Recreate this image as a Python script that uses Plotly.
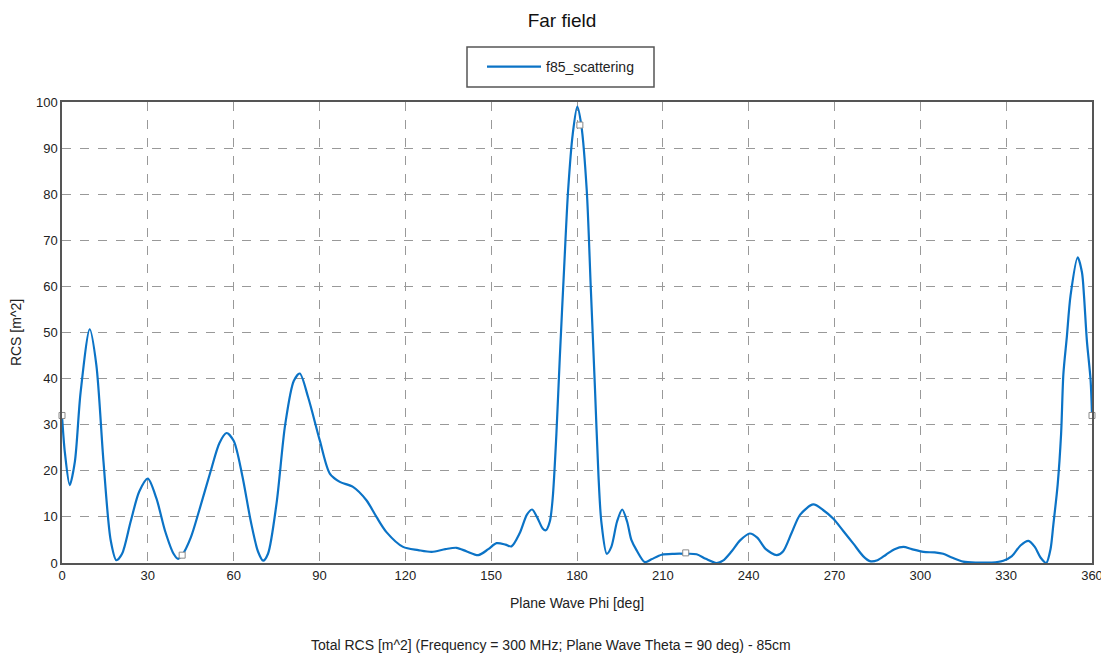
import plotly.graph_objects as go

# Curve samples (phi in deg, RCS in m^2)
phi = [0, 1, 2.7, 4.5, 6.5, 9.7, 12, 14.5, 17, 19, 21, 24, 27, 30, 33, 36, 39, 40.6, 42,
       45, 48, 52, 55, 57.5, 60, 63, 66, 68.5, 70.3, 72, 75, 78, 81, 83.1, 86, 90.1, 93.6,
       97.1, 101.7, 106.4, 109.9, 113.4, 119.2, 124.5, 129.2, 134, 137.9, 141.5, 145.5, 149,
       151.9, 155, 157.1, 160, 162.5, 164.3, 166, 168, 169.1, 170.5, 171.5, 172.8, 174,
       175.5, 176.9, 178.5, 180.1, 181.5, 183.4, 184.8, 186.3, 187.5, 188.5, 190.4, 192,
       194, 195.8, 197.5, 199, 200.8, 203.7, 206, 209.6, 214, 218.1, 221.8, 225, 228.8,
       231, 234, 237, 240.4, 243, 246, 249.8, 252, 255, 258, 262.6, 266, 269.6, 273,
       276.6, 280, 282.4, 285, 288, 291, 294.1, 297, 301.1, 305, 308, 311, 315, 320, 325,
       329, 332, 335, 337.8, 340, 342, 344, 345.5, 346.5, 348, 349.2, 350, 351.2, 352.5,
       355, 356.5, 357.2, 358.2, 359.5, 360]
rcs = [32, 24, 16.9, 22, 37, 50.7, 43, 22, 5, 0.6, 2, 9, 15.5, 18.3, 14, 7, 2, 0.9, 1.7,
       5.5, 11.5, 20, 26, 28.2, 26.5, 19, 9, 2.5, 0.5, 2, 13, 30, 39.5, 41.1, 36, 26.6, 19.4,
       17.6, 16.5, 13.6, 10, 6.7, 3.5, 2.8, 2.4, 3, 3.3, 2.5, 1.7, 3,
       4.3, 4, 3.6, 6.5, 10.5, 11.6, 10, 7.5, 7.1, 9, 14, 28, 44.7,
       64, 80.9, 93, 99.0, 95, 80.9, 60, 37.5, 19, 9, 2.0, 3.5,
       9, 11.6, 9, 5, 2.8, 0.2, 0.8, 1.8, 2, 2.0, 1.9, 0.9, 0,
       0.5, 2.5, 4.9, 6.4, 5.5, 3, 1.7, 2.5, 6.5, 10.5, 12.7, 11.5, 9.6, 7,
       4.2, 1.5, 0.4, 0.6, 1.8, 3, 3.5, 3, 2.4, 2.3, 2.0, 1.2, 0.3, 0.1, 0.1,
       0.5, 1.5, 3.8, 4.8, 3.5, 1.2, 0, 3, 8.4, 17, 28, 41, 49, 58,
       66.3, 63, 58, 48.3, 39.7, 32]

# Marker positions on the curve
marker_phi = [0, 42, 181, 218, 360]
marker_rcs = [32, 1.7, 95, 2.2, 32]

x_ticks = list(range(0, 361, 30))
y_ticks = list(range(0, 101, 10))

series_name = "f85_scattering"
title_text = "Far field"
x_title = "Plane Wave Phi [deg]"
y_title = "RCS [m^2]"
footer = "Total RCS [m^2] (Frequency = 300 MHz; Plane Wave Theta = 90 deg) - 85cm"

font_family = "Liberation Sans, Arial, sans-serif"
line_color = "#0B73C6"

W, H = 1101, 650          # page has an 8px body margin
L, R, T, B = 54, 17, 94, 95
PW, PH = W - L - R, H - T - B


def px_x(x):
    return (x - L) / PW


def px_y(y):
    return (H - B - y) / PH


fig = go.Figure()
fig.add_trace(go.Scatter(
    x=phi, y=rcs, mode="lines", name=series_name,
    line=dict(color=line_color, width=2.2, shape="spline", smoothing=0.8),
))
fig.add_trace(go.Scatter(
    x=marker_phi, y=marker_rcs, mode="markers", showlegend=False,
    marker=dict(symbol="square", size=6, color="white",
                line=dict(color="#8a8a8a", width=1)),
    cliponaxis=False,
))

fig.update_layout(
    width=W, height=H,
    margin=dict(l=L, r=R, t=T, b=B, autoexpand=False),
    paper_bgcolor="white", plot_bgcolor="white",
    font=dict(family=font_family, size=13, color="#222222"),
    title=dict(text=title_text, x=554 / W, xanchor="center", y=1 - 12 / H,
               yanchor="middle", font=dict(size=19, color="#111111")),
    showlegend=True,
    legend=dict(orientation="h", xref="container", yref="container",
                x=474 / W, xanchor="left", y=1 - 59 / H, yanchor="middle",
                itemwidth=54,
                bgcolor="rgba(0,0,0,0)", borderwidth=0,
                font=dict(size=14, color="#222222")),
    shapes=[dict(type="rect", xref="paper", yref="paper",
                 x0=px_x(459), x1=px_x(646), y0=px_y(79), y1=px_y(39),
                 line=dict(color="#555555", width=1.5), fillcolor="rgba(0,0,0,0)")],
    annotations=[dict(text=footer, xref="paper", yref="paper", x=px_x(543),
                      xanchor="center", y=px_y(637), yanchor="middle",
                      showarrow=False, font=dict(size=14, color="#222222"))],
)

fig.update_xaxes(
    range=[0, 360], tickvals=x_ticks, ticktext=[str(v) for v in x_ticks],
    showgrid=True, gridcolor="#999999", griddash="dash", gridwidth=1,
    showline=True, linecolor="#555555", linewidth=1.5, mirror=True,
    zeroline=False, ticks="", automargin=False,
    title=dict(text=x_title, standoff=16, font=dict(size=14)),
)
fig.update_yaxes(
    range=[0, 100], tickvals=y_ticks, ticktext=[str(v) for v in y_ticks],
    showgrid=True, gridcolor="#999999", griddash="dash", gridwidth=1,
    showline=True, linecolor="#555555", linewidth=1.5, mirror=True,
    zeroline=False, ticks="", automargin=False,
    title=dict(text=y_title, standoff=15, font=dict(size=14)),
)

fig.write_html("out.html")
